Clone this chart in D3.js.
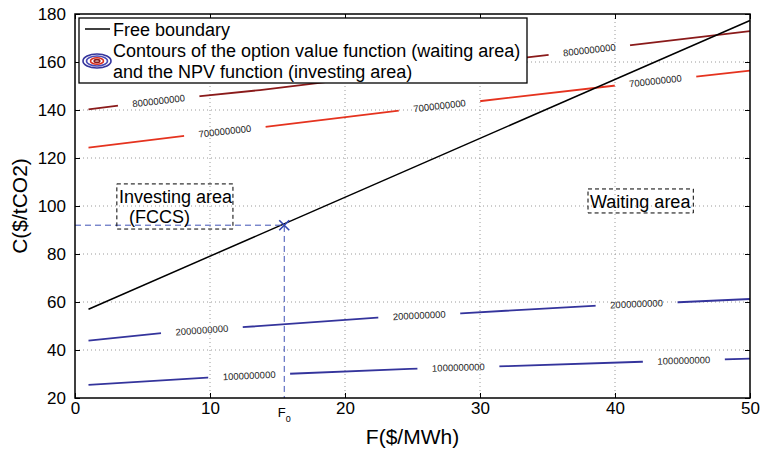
<!doctype html>
<html>
<head>
<meta charset="utf-8">
<script src="https://cdn.jsdelivr.net/npm/d3@7"></script>
<style>
  body { margin: 0; background: #fff; }
  text { font-family: "Liberation Sans", Arial, Helvetica, sans-serif; fill: #000; }
</style>
</head>
<body>
<svg width="762" height="449"></svg>
<script>
// ---- data ----
var xTicks = [0, 10, 20, 30, 40, 50];
var yTicks = [20, 40, 60, 80, 100, 120, 140, 160, 180];

var boundaryF = [1, 50];
var boundaryC = [57, 177.3];

var contourLevels = ["1000000000", "2000000000", "7000000000", "8000000000"];
var contourColors = ["#34349c", "#34349c", "#e5331f", "#8a1a1a"];
var contourF = [
  [1, 9.8, 15.9, 24.8, 32, 42, 50],
  [1, 6.4, 12.4, 22.4, 28.6, 38.7, 44.7, 50],
  [1, 8.1, 14.1, 24, 30.1, 39.9, 46, 50],
  [1, 3.2, 9.3, 13.7, 33.5, 35.1, 41.2, 50]
];
var contourC = [
  [25.5, 28.5, 30.1, 32.1, 33.3, 35.1, 36.4],
  [43.9, 47, 49.5, 53.5, 55.3, 58.5, 59.9, 61.25],
  [124.3, 129.2, 133, 139.7, 143.75, 150.1, 153.9, 156.4],
  [140.3, 141.8, 145.8, 148.3, 161.9, 163, 167, 172.9]
];
// where the inline labels sit (F values)
var labelF = [
  [12.9, 28.4, 45.1],
  [9.4, 25.5, 41.6],
  [11.1, 27, 43],
  [6.2, 38.1]
];

var F0 = 15.5, C0 = 92;

var legendItems = ["Free boundary",
  "Contours of the option value function (waiting area)",
  "and the NPV function (investing area)"];

// ---- setup ----
var svg = d3.select("svg");
var pL = 75, pR = 750, pT = 14, pB = 398;

var x = d3.scaleLinear().domain([0, 50]).range([pL, pR]);
var y = d3.scaleLinear().domain([20, 180]).range([pB, pT]);

var defs = svg.append("defs");

// grid
var grid = svg.append("g").attr("stroke", "#9a9a9a").attr("stroke-width", 1)
    .attr("stroke-dasharray", "1,3");
grid.selectAll(".gx").data(xTicks.slice(1, -1)).enter().append("line")
    .attr("x1", d => x(d)).attr("x2", d => x(d))
    .attr("y1", pT).attr("y2", pB);
grid.selectAll(".gy").data(yTicks.slice(1, -1)).enter().append("line")
    .attr("y1", d => y(d)).attr("y2", d => y(d))
    .attr("x1", pL).attr("x2", pR);

// contours, with gaps cut where the labels go
var line = d3.line().x(d => x(d[0])).y(d => y(d[1]));

contourLevels.forEach(function(level, i) {
  var pts = contourF[i].map((f, j) => [f, contourC[i][j]]);
  var interp = d3.scaleLinear().domain(contourF[i]).range(contourC[i]);

  var labels = labelF[i].map(function(f) {
    var px = x(f), py = y(interp(f));
    var dx = x(f + 1.5) - x(f - 1.5);
    var dy = y(interp(f + 1.5)) - y(interp(f - 1.5));
    return { x: px, y: py, a: Math.atan2(dy, dx) * 180 / Math.PI };
  });

  var mask = defs.append("mask").attr("id", "m" + i)
      .attr("maskUnits", "userSpaceOnUse")
      .attr("x", 0).attr("y", 0).attr("width", 762).attr("height", 449);
  mask.append("rect").attr("width", 762).attr("height", 449).attr("fill", "#fff");
  mask.selectAll(".cut").data(labels).enter().append("rect")
      .attr("x", -41).attr("y", -8).attr("width", 82).attr("height", 16)
      .attr("fill", "#000")
      .attr("transform", d => "translate(" + d.x + "," + d.y + ") rotate(" + d.a + ")");

  svg.append("path").datum(pts)
      .attr("d", line)
      .attr("fill", "none")
      .attr("stroke", contourColors[i])
      .attr("stroke-width", 1.8)
      .attr("mask", "url(#m" + i + ")");

  svg.selectAll(".lab" + i).data(labels).enter().append("text")
      .attr("transform", d => "translate(" + d.x + "," + d.y + ") rotate(" + d.a + ")")
      .attr("text-anchor", "middle")
      .attr("dy", "0.35em")
      .style("font-size", "9.5px")
      .style("fill", "#222")
      .text(level);
});

// free boundary
svg.append("path")
    .datum(boundaryF.map((f, j) => [f, boundaryC[j]]))
    .attr("d", line)
    .attr("fill", "none")
    .attr("stroke", "#000")
    .attr("stroke-width", 1.5);

// F0 guide lines
svg.append("path")
    .attr("d", "M" + x(0) + "," + y(C0) + "H" + x(F0) + "V" + y(20))
    .attr("fill", "none")
    .attr("stroke", "#3f51b5")
    .attr("stroke-width", 1)
    .attr("stroke-dasharray", "6,4");
svg.append("path")
    .attr("d", "M-5,-5L5,5M-5,5L5,-5")
    .attr("transform", "translate(" + x(F0) + "," + y(C0) + ")")
    .attr("stroke", "#3347b0")
    .attr("stroke-width", 1.6);

// area annotations
function boxNote(f1, c1, f2, c2, lines) {
  svg.append("rect")
      .attr("x", x(f1)).attr("y", y(c1))
      .attr("width", x(f2) - x(f1)).attr("height", y(c2) - y(c1))
      .attr("fill", "none").attr("stroke", "#000")
      .attr("stroke-width", 1).attr("stroke-dasharray", "4,3");
  lines.forEach(function(l) {
    svg.append("text")
        .attr("x", x(l[0])).attr("y", y(l[1]))
        .style("font-size", "18px")
        .text(l[2]);
  });
}
boxNote(3.1, 109.2, 11.7, 90.4, [[3.25, 101.3, "Investing area"], [4, 92.9, "(FCCS)"]]);
boxNote(38.0, 107.1, 45.8, 97.1, [[38.15, 99.2, "Waiting area"]]);

// axes: inward ticks on all four sides
function styleAxis(g) {
  g.select(".domain").remove();
  g.selectAll(".tick line").attr("stroke", "#000").attr("stroke-width", 1);
  g.selectAll("text").style("font-size", "17px").style("font-family", null).attr("fill", "#000");
}
svg.append("g").attr("transform", "translate(0," + pB + ")")
    .call(d3.axisBottom(x).tickValues(xTicks).tickSize(-5).tickPadding(4))
    .call(styleAxis);
svg.append("g").attr("transform", "translate(" + pL + ",0)")
    .call(d3.axisLeft(y).tickValues(yTicks).tickSize(-5).tickPadding(9))
    .call(styleAxis);
svg.append("g").attr("transform", "translate(0," + pT + ")")
    .call(d3.axisTop(x).tickValues(xTicks).tickSize(-5).tickFormat(""))
    .call(styleAxis);
svg.append("g").attr("transform", "translate(" + pR + ",0)")
    .call(d3.axisRight(y).tickValues(yTicks).tickSize(-5).tickFormat(""))
    .call(styleAxis);

svg.append("rect")
    .attr("x", pL).attr("y", pT)
    .attr("width", pR - pL).attr("height", pB - pT)
    .attr("fill", "none").attr("stroke", "#000").attr("stroke-width", 1.5);

// F0 tick label
var f0 = svg.append("text").attr("x", x(F0)).attr("y", 417).attr("text-anchor", "middle");
f0.append("tspan").style("font-size", "13px").text("F");
f0.append("tspan").style("font-size", "9px").attr("dy", 5).text("0");

// axis titles
svg.append("text")
    .attr("x", (pL + pR) / 2).attr("y", 444)
    .attr("text-anchor", "middle")
    .style("font-size", "21px")
    .text("F($/MWh)");
svg.append("text")
    .attr("transform", "translate(27," + (pT + pB) / 2 + ") rotate(-90)")
    .attr("text-anchor", "middle")
    .style("font-size", "21px")
    .text("C($/tCO2)");

// legend
var lg = svg.append("g").attr("transform", "translate(79,18)");
lg.append("rect").attr("width", 448).attr("height", 65)
    .attr("fill", "#fff").attr("stroke", "#000").attr("stroke-width", 1.3);
lg.append("line").attr("x1", 6).attr("x2", 31).attr("y1", 11).attr("y2", 11)
    .attr("stroke", "#000").attr("stroke-width", 1.5);
var rings = [[14, 7, "#34349c"], [10.5, 5, "#4a4ab4"], [6.5, 3.2, "#d9301f"], [2.8, 1.4, "#8a1a1a"]];
lg.selectAll(".ring").data(rings).enter().append("ellipse")
    .attr("cx", 18).attr("cy", 43)
    .attr("rx", d => d[0]).attr("ry", d => d[1])
    .attr("fill", "none").attr("stroke", d => d[2]).attr("stroke-width", 1.6);
lg.selectAll(".li").data(legendItems).enter().append("text")
    .attr("x", 34).attr("y", (d, i) => 18 + i * 21)
    .style("font-size", "18px")
    .text(d => d);
</script>
</body>
</html>
